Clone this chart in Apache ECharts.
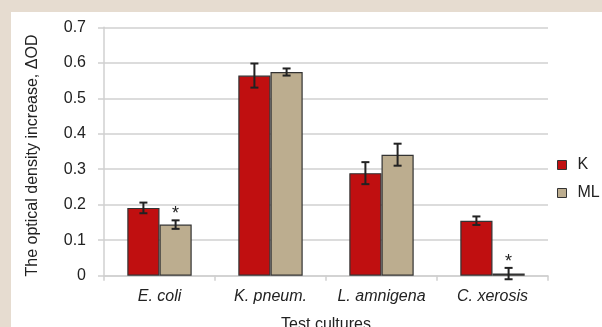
<!DOCTYPE html>
<html>
<head>
<meta charset="utf-8">
<script src="https://cdn.jsdelivr.net/npm/echarts@6/dist/echarts.min.js"></script>
<style>
html,body{margin:0;padding:0;width:602px;height:327px;background:#e6dcd0;overflow:hidden;}
#chart{position:absolute;left:11px;top:12px;width:591px;height:315px;background:#fff;}
</style>
</head>
<body>
<div id="chart"></div>
<script>
var categories = ['E. coli', 'K. pneum.', 'L. amnigena', 'C. xerosis'];
var seriesNames = ['K', 'ML'];
var valuesK = [0.191, 0.564, 0.289, 0.155];
var valuesML = [0.144, 0.574, 0.341, 0.006];
var errK = [0.015, 0.034, 0.031, 0.012];
var errML = [0.012, 0.010, 0.031, 0.016];
var starsML = ['*', '', '', '*'];
var yTicks = [0, 0.1, 0.2, 0.3, 0.4, 0.5, 0.6, 0.7];

var FONT = '"Liberation Sans", Arial, sans-serif';
var colorK = '#c00f10';
var colorML = '#bcad8f';

function errData(vals, errs, stars) {
  return vals.map(function (v, i) { return [i, v, errs[i], stars ? stars[i] : '']; });
}

function makeErr(offsetSign) {
  return function (params, api) {
    var idx = api.value(0), v = api.value(1), e = api.value(2), star = api.value(3);
    var band = api.size([1, 0])[0];
    var off = offsetSign * band * 0.58 / 4;
    var c = api.coord([idx, v]);
    var x = c[0] + off;
    var yTop = api.coord([idx, v + e])[1];
    var yBot = api.coord([idx, v - e])[1];
    var cap = 4;
    var st = { stroke: '#222', lineWidth: 2 };
    var children = [
      { type: 'line', shape: { x1: x, y1: yTop, x2: x, y2: yBot }, style: st },
      { type: 'line', shape: { x1: x - cap, y1: yTop, x2: x + cap, y2: yTop }, style: st },
      { type: 'line', shape: { x1: x - cap, y1: yBot, x2: x + cap, y2: yBot }, style: st }
    ];
    if (star) {
      children.push({ type: 'text', style: { text: star, x: x, y: yTop - 6, textAlign: 'center', textVerticalAlign: 'middle', fill: '#222', font: '18px ' + FONT } });
    }
    return { type: 'group', children: children };
  };
}

var chart = echarts.init(document.getElementById('chart'), null, { renderer: 'canvas' });
chart.setOption({
  animation: false,
  textStyle: { fontFamily: FONT },
  grid: { left: 93, right: 54, top: 15.3, bottom: 51.3, containLabel: false, outerBoundsMode: 'none' },
  legend: {
    orient: 'vertical',
    left: 546,
    top: 145,
    padding: 0,
    itemWidth: 9,
    itemHeight: 9,
    itemGap: 12,
    icon: 'rect',
    data: seriesNames,
    itemStyle: { borderColor: '#333', borderWidth: 1 },
    textStyle: { fontSize: 16, color: '#222', fontFamily: FONT, padding: [0, 0, 0, 6] }
  },
  xAxis: {
    type: 'category',
    data: categories,
    name: 'Test cultures',
    nameLocation: 'middle',
    nameGap: 41,
    nameTextStyle: { fontSize: 16, color: '#222', fontFamily: FONT },
    axisLine: { lineStyle: { color: '#d0d0d0', width: 1.5 } },
    axisTick: { show: true, length: 5, lineStyle: { color: '#d0d0d0', width: 1.5 } },
    axisLabel: { interval: 0, fontSize: 16, color: '#222', fontStyle: 'italic', margin: 13, fontFamily: FONT }
  },
  yAxis: {
    type: 'value',
    min: 0,
    max: 0.7,
    interval: 0.1,
    name: 'The optical density increase, ΔOD',
    nameLocation: 'middle',
    nameRotate: 90,
    nameGap: 63,
    nameTextStyle: { fontSize: 16, color: '#222', fontFamily: FONT, padding: [0, 8, 0, 0] },
    axisLine: { show: true, lineStyle: { color: '#d0d0d0', width: 1.5 } },
    axisTick: { show: true, length: 6, lineStyle: { color: '#d0d0d0', width: 1.5 } },
    splitLine: { lineStyle: { color: '#d0d0d0', width: 1.5 } },
    axisLabel: {
      fontSize: 16, color: '#222', margin: 18, fontFamily: FONT,
      formatter: function (v) {
        for (var i = 0; i < yTicks.length; i++) { if (Math.abs(yTicks[i] - v) < 1e-9) return String(yTicks[i]); }
        return '';
      }
    }
  },
  series: [
    {
      name: seriesNames[0], type: 'bar', data: valuesK, barGap: '0%', barCategoryGap: '42%',
      itemStyle: { color: colorK, borderColor: '#333', borderWidth: 1.2 }
    },
    {
      name: seriesNames[1], type: 'bar', data: valuesML,
      itemStyle: { color: colorML, borderColor: '#333', borderWidth: 1.2 }
    },
    {
      type: 'custom', renderItem: makeErr(-1), data: errData(valuesK, errK), z: 10, silent: true,
      encode: { x: 0, y: 1 }
    },
    {
      type: 'custom', renderItem: makeErr(1), data: errData(valuesML, errML, starsML), z: 10, silent: true,
      encode: { x: 0, y: 1 }
    }
  ]
});
</script>
</body>
</html>
